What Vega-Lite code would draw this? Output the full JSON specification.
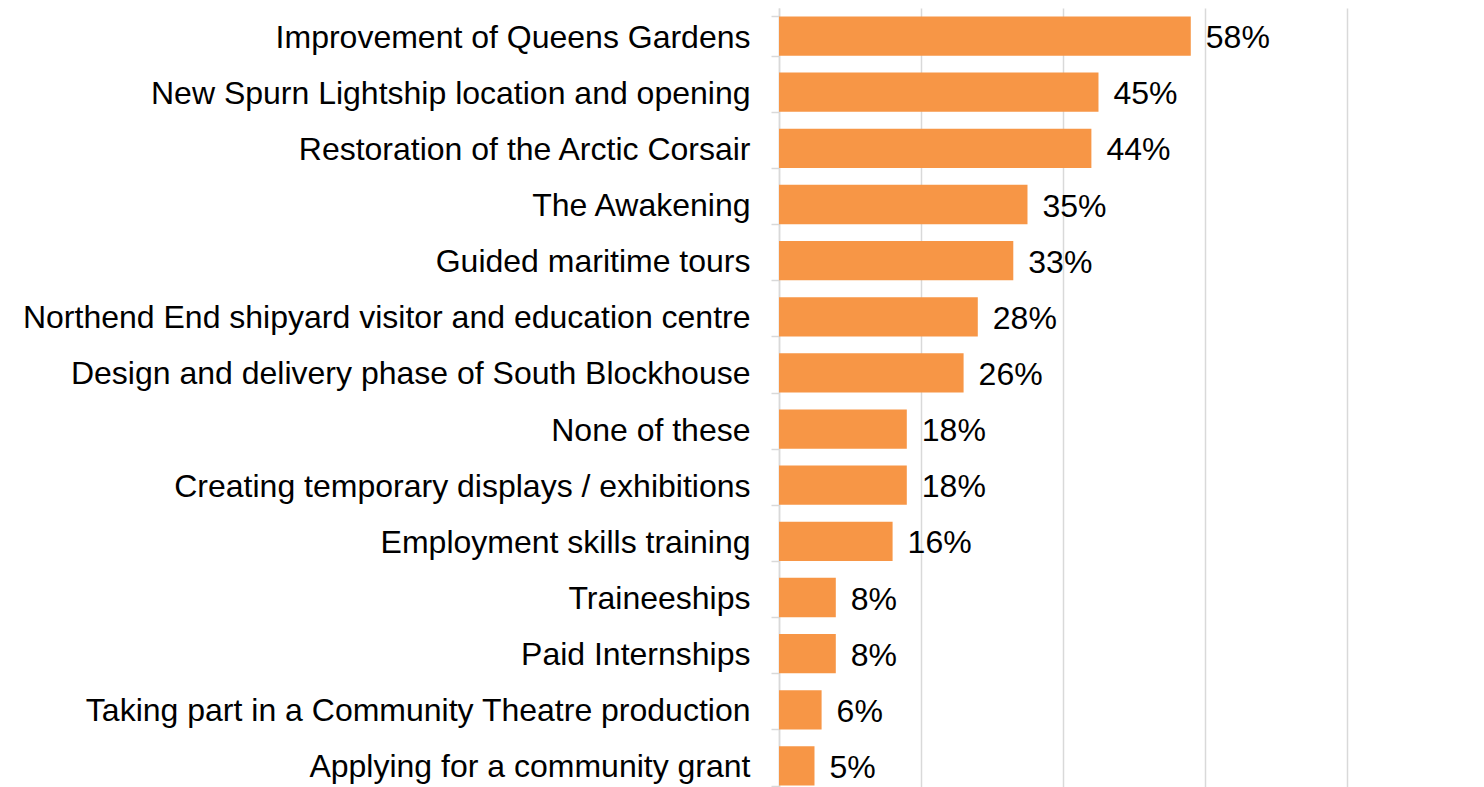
{
  "$schema": "https://vega.github.io/schema/vega-lite/v6.json",
  "autosize": {"type": "none"},
  "padding": {"left": 779, "top": 8, "right": 0, "bottom": 0},
  "width": 705,
  "height": 786,
  "background": "white",
  "config": {
    "view": {"stroke": null},
    "font": "Liberation Sans"
  },
  "data": {
    "values": [
      {"item": "Improvement of Queens Gardens", "pct": 58, "label": "58%"},
      {"item": "New Spurn Lightship location and opening", "pct": 45, "label": "45%"},
      {"item": "Restoration of the Arctic Corsair", "pct": 44, "label": "44%"},
      {"item": "The Awakening", "pct": 35, "label": "35%"},
      {"item": "Guided maritime tours", "pct": 33, "label": "33%"},
      {"item": "Northend End shipyard visitor and education centre", "pct": 28, "label": "28%"},
      {"item": "Design and delivery phase of South Blockhouse", "pct": 26, "label": "26%"},
      {"item": "None of these", "pct": 18, "label": "18%"},
      {"item": "Creating temporary displays / exhibitions", "pct": 18, "label": "18%"},
      {"item": "Employment skills training", "pct": 16, "label": "16%"},
      {"item": "Traineeships", "pct": 8, "label": "8%"},
      {"item": "Paid Internships", "pct": 8, "label": "8%"},
      {"item": "Taking part in a Community Theatre production", "pct": 6, "label": "6%"},
      {"item": "Applying for a community grant", "pct": 5, "label": "5%"}
    ]
  },
  "encoding": {
    "y": {
      "field": "item",
      "type": "nominal",
      "sort": null,
      "title": null,
      "scale": {"paddingInner": 0.3, "paddingOuter": 0.15},
      "axis": {
        "domainColor": "#d9d9d9",
        "domainWidth": 1.5,
        "tickColor": "#d9d9d9",
        "tickWidth": 1.5,
        "tickSize": 8,
        "tickBand": "extent",
        "labelFont": "Liberation Sans",
        "labelFontSize": 32,
        "labelColor": "#000000",
        "labelPadding": 21,
        "labelOffset": 1,
        "labelLimit": 0,
        "grid": false
      }
    },
    "x": {
      "field": "pct",
      "type": "quantitative",
      "title": null,
      "scale": {"domain": [0, 99.3], "nice": false, "zero": true},
      "axis": {
        "values": [0, 20, 40, 60, 80],
        "labels": false,
        "ticks": false,
        "domain": false,
        "grid": true,
        "gridColor": "#d9d9d9",
        "gridWidth": 1.5
      }
    }
  },
  "layer": [
    {"mark": {"type": "bar", "color": "#F79646"}},
    {
      "mark": {"type": "text", "align": "left", "baseline": "middle", "dx": 15, "dy": 2, "fontSize": 32, "font": "Liberation Sans", "color": "#000000"},
      "encoding": {"text": {"field": "label"}}
    }
  ]
}
